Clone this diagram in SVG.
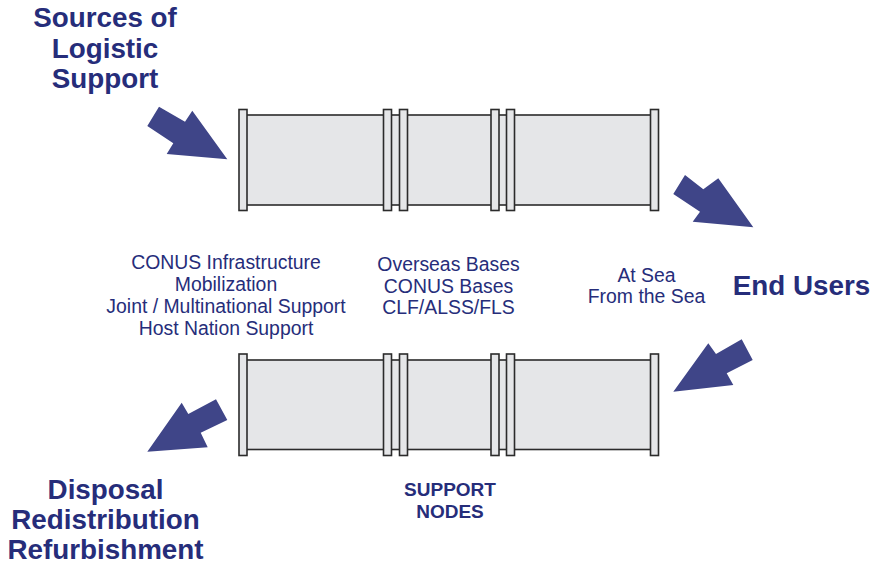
<svg xmlns="http://www.w3.org/2000/svg" width="876" height="567" viewBox="0 0 876 567">
<style>
.bg{fill:#ffffff}
.body{fill:#e5e6e8;stroke:#2b2b2b;stroke-width:1.6}
.fl{fill:#e5e6e8;stroke:#2b2b2b;stroke-width:1.6}
.arr{fill:#3f4588}
.big{font-family:"Liberation Sans",Arial,sans-serif;font-weight:bold;font-size:27.8px;fill:#262d7a;text-anchor:middle}
.sm{font-family:"Liberation Sans",Arial,sans-serif;font-size:19.4px;fill:#262d7a;text-anchor:middle}
.sb{font-family:"Liberation Sans",Arial,sans-serif;font-weight:bold;font-size:19px;fill:#262d7a;text-anchor:middle}
</style>
<rect class="bg" x="0" y="0" width="876" height="567"/>
<g id="pipe-top">
<rect class="body" x="243" y="115" width="412" height="90"/>
<rect class="fl" x="239" y="109.5" width="8" height="101"/>
<rect class="fl" x="383.5" y="109.5" width="8" height="101"/>
<rect class="fl" x="399.5" y="109.5" width="8" height="101"/>
<rect class="fl" x="491" y="109.5" width="8" height="101"/>
<rect class="fl" x="506.5" y="109.5" width="8" height="101"/>
<rect class="fl" x="650.5" y="109.5" width="8" height="101"/>
</g>
<g id="pipe-bottom">
<rect class="body" x="243" y="360" width="412" height="89.5"/>
<rect class="fl" x="239" y="354" width="8" height="101.5"/>
<rect class="fl" x="383.5" y="354" width="8" height="101.5"/>
<rect class="fl" x="399.5" y="354" width="8" height="101.5"/>
<rect class="fl" x="491" y="354" width="8" height="101.5"/>
<rect class="fl" x="506.5" y="354" width="8" height="101.5"/>
<rect class="fl" x="650.5" y="354" width="8" height="101.5"/>
</g>
<g id="connectors">
<polygon class="arr" points="147.3,126 159,106.7 185,121.7 192.3,110.7 227.3,159.3 166.7,154 173.3,143.3"/>
<polygon class="arr" points="673.3,194 685,175 703.3,189.3 718.3,178.3 753.3,227.3 692.7,221.7 700,211.7"/>
<polygon class="arr" points="673.3,391.7 708.3,343.3 716,354 741.7,339.3 752.7,360 726.7,373.3 733.3,385"/>
<polygon class="arr" points="147.3,451.7 181.7,402.7 188.3,414 216,399.3 227.3,420 200.7,432.7 207.7,447.3"/>
</g>
<g id="sources">
<text class="big" x="105" y="27">Sources of</text>
<text class="big" x="105" y="57.5">Logistic</text>
<text class="big" x="105" y="88">Support</text>
</g>
<g id="end-users">
<text class="big" x="801.5" y="295">End Users</text>
</g>
<g id="disposal">
<text class="big" x="105.5" y="499">Disposal</text>
<text class="big" x="105.5" y="529">Redistribution</text>
<text class="big" x="105.5" y="559">Refurbishment</text>
</g>
<g id="conus-labels">
<text class="sm" x="226" y="269">CONUS Infrastructure</text>
<text class="sm" x="226" y="291">Mobilization</text>
<text class="sm" x="226" y="313">Joint / Multinational Support</text>
<text class="sm" x="226" y="334.5">Host Nation Support</text>
</g>
<g id="overseas-labels">
<text class="sm" x="448.5" y="271">Overseas Bases</text>
<text class="sm" x="448.5" y="292.5">CONUS Bases</text>
<text class="sm" x="448.5" y="314">CLF/ALSS/FLS</text>
</g>
<g id="sea-labels">
<text class="sm" x="646.5" y="281.5">At Sea</text>
<text class="sm" x="646.5" y="302.5">From the Sea</text>
</g>
<g id="support-nodes">
<text class="sb" x="450" y="496">SUPPORT</text>
<text class="sb" x="450" y="517.5">NODES</text>
</g>
</svg>
